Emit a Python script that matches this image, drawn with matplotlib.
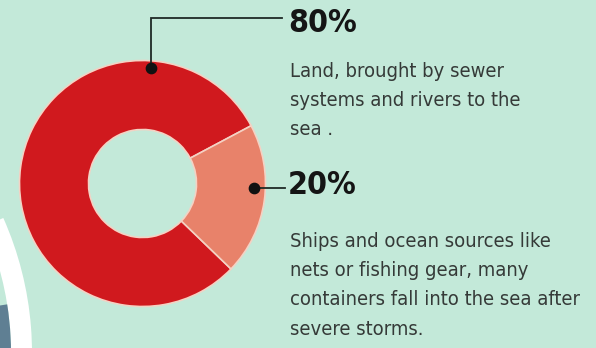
import numpy as np
import matplotlib.pyplot as plt
from matplotlib.patches import Wedge

# data
shares = [80, 20]
share_labels = ['80%', '20%']
descriptions = [
    'Land, brought by sewer\nsystems and rivers to the\nsea .',
    'Ships and ocean sources like\nnets or fishing gear, many\ncontainers fall into the sea after\nsevere storms.',
]
colors = ['#d0191e', '#e8826a']

W, H = 596, 348
BG = '#c3e9d9'
TEXT = '#353a38'


def py(y):
    # pixel row (from top) -> data y
    return H - y


fig = plt.figure(figsize=(W / 100, H / 100), dpi=100)
fig.patch.set_facecolor(BG)
ax = fig.add_axes([0, 0, 1, 1])
ax.set_facecolor(BG)

# piece of the neighbouring illustration in the lower left corner
ax.add_patch(Wedge((-300, py(353)), 332, -15, 24, width=21, facecolor='white',
                   edgecolor='none', zorder=1))
ax.add_patch(Wedge((-300, py(353)), 311, -15, 9, width=12, facecolor='#5f7f93',
                   edgecolor='none', zorder=1))

cx, cy = 142.5, py(183.5)
r_out, r_in = 123, 54

ax.pie(shares, colors=colors, startangle=28, counterclock=True,
       radius=r_out, center=(cx, cy),
       wedgeprops=dict(width=r_out - r_in, edgecolor='#f4d2c4', linewidth=1.2))

# leader lines and dots
dot_angles = [86, -2.3]
dot_r = [115.5, 111.5]
pts = [(cx + r * np.cos(np.radians(a)), cy + r * np.sin(np.radians(a)))
       for a, r in zip(dot_angles, dot_r)]

x0, y0 = pts[0]
ax.plot([x0, x0, 282], [y0, py(18), py(18)], color='#1f2a26', lw=1.3,
        solid_joinstyle='miter', zorder=4)
x1, y1 = pts[1]
ax.plot([x1, 285], [y1, y1], color='#1f2a26', lw=1.3, zorder=4)
ax.scatter([p[0] for p in pts], [p[1] for p in pts], s=55, color='#111111', zorder=5)

# texts
head_y = [23, 186]
body_y = [62, 232]
for lab, desc, hy, by in zip(share_labels, descriptions, head_y, body_y):
    ax.text(288, py(hy), lab, fontsize=23, fontweight='bold', family='DejaVu Sans',
            fontstretch='condensed', color='#151515', va='center', ha='left')
    ax.text(290, py(by), desc, fontsize=14.5, family='DejaVu Sans',
            fontstretch='condensed', color=TEXT, va='top', ha='left',
            linespacing=1.68)

ax.set_xlim(0, W)
ax.set_ylim(0, H)
ax.set_aspect('equal')
ax.axis('off')

fig.savefig('out.png', dpi=100, facecolor=BG)
